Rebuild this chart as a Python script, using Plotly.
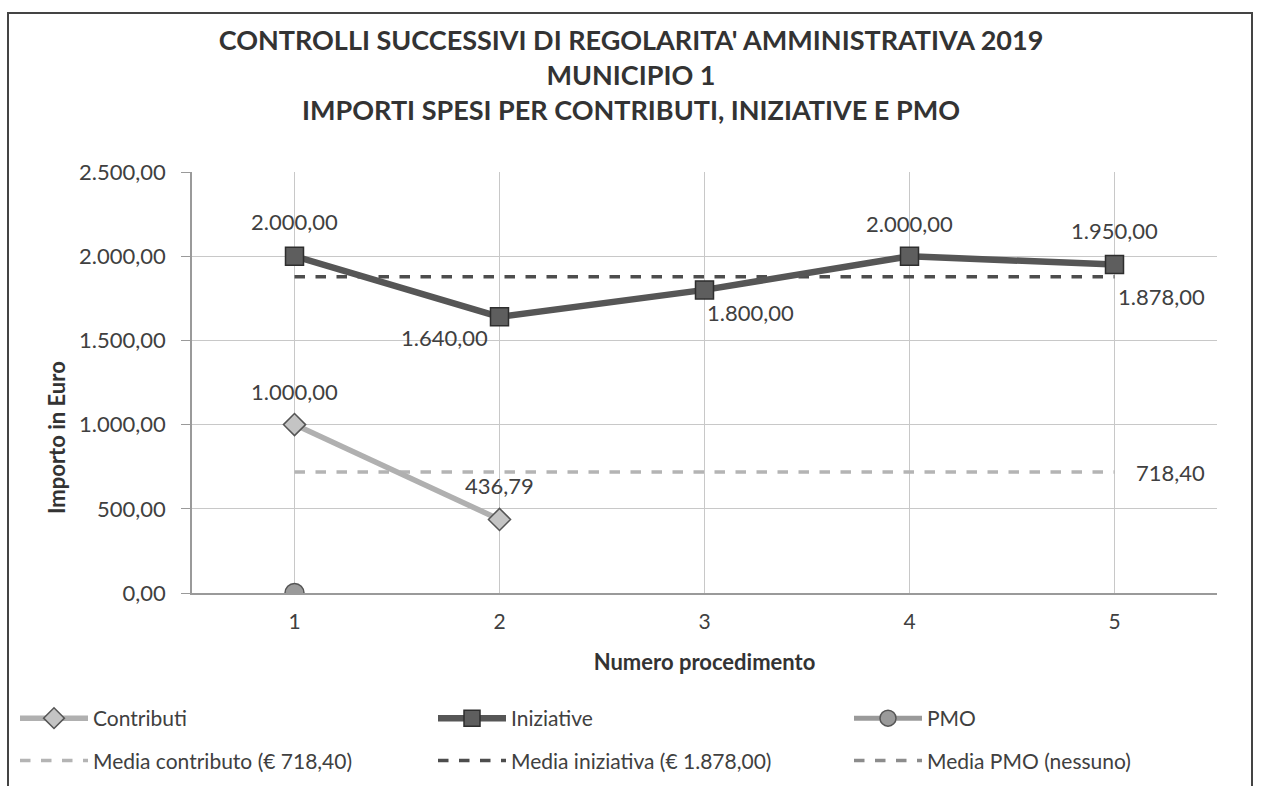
import plotly.graph_objects as go

# Dati: importi per procedimento (euro)
procedimenti = [1, 2, 3, 4, 5]
contributi = [1000.00, 436.79]
iniziative = [2000.00, 1640.00, 1800.00, 2000.00, 1950.00]
pmo = [0.00]
media_contributo = 718.40
media_iniziativa = 1878.00

y_ticks = [0, 500, 1000, 1500, 2000, 2500]

# Offset (px) delle etichette rispetto al punto
off_iniziative = [(0, 35), (-55, -21), (46, -23), (0, 33), (0, 34)]
off_contributi = [(0, 33), (0, 34)]

FONT = "Lato"
TXT = "#404040"

# Geometria dell'area del grafico (px)
W, H = 1262, 786
L, R, T, B = 192, 45, 172, 193
PW, PH = W - L - R, H - T - B


def fmt_it(v):
    s = f"{v:,.2f}"
    return s.replace(",", "X").replace(".", ",").replace("X", ".")


def px_x(px):
    return (px - L) / PW


def px_y(py):
    return (H - B - py) / PH


fig = go.Figure()

# Linee della media (sotto le serie principali)
fig.add_trace(go.Scatter(
    x=procedimenti, y=[media_contributo] * len(procedimenti), mode="lines",
    name=f"Media contributo (€ {fmt_it(media_contributo)})",
    line=dict(color="#b4b4b4", width=3.5, dash="dash"),
    legend="legend", legendgroup="mc", legendrank=2))
fig.add_trace(go.Scatter(
    x=procedimenti, y=[media_iniziativa] * len(procedimenti), mode="lines",
    name=f"Media iniziativa (€ {fmt_it(media_iniziativa)})",
    line=dict(color="#4d4d4d", width=3.5, dash="dash"),
    legend="legend2", legendgroup="mi", legendrank=2))
fig.add_trace(go.Scatter(
    x=procedimenti, y=[None] * len(procedimenti), mode="lines",
    name="Media PMO (nessuno)",
    line=dict(color="#8c8c8c", width=3.5, dash="dash"),
    legend="legend3", legendgroup="mp", legendrank=2))

# Serie principali
fig.add_trace(go.Scatter(
    x=procedimenti[:len(contributi)], y=contributi, mode="lines+markers",
    name="Contributi",
    line=dict(color="#b0b0b0", width=5.5),
    marker=dict(symbol="diamond", size=17, color="#c4c4c4",
                line=dict(color="#555555", width=1.5)),
    legend="legend", legendgroup="c", legendrank=1))
fig.add_trace(go.Scatter(
    x=procedimenti, y=iniziative, mode="lines+markers",
    name="Iniziative",
    line=dict(color="#565656", width=6.5),
    marker=dict(symbol="square", size=18, color="#5e5e5e",
                line=dict(color="#2e2e2e", width=1.5)),
    legend="legend2", legendgroup="i", legendrank=1))
fig.add_trace(go.Scatter(
    x=procedimenti[:len(pmo)], y=pmo, mode="lines+markers",
    name="PMO",
    line=dict(color="#9a9a9a", width=5),
    marker=dict(symbol="circle", size=19, color="#9a9a9a",
                line=dict(color="#555555", width=1.5)),
    legend="legend3", legendgroup="p", legendrank=1))

lab_font = dict(family=FONT, size=22, color=TXT)
annotations = []
for x, v, (dx, dy) in zip(procedimenti, iniziative, off_iniziative):
    annotations.append(dict(x=x, y=v, text=fmt_it(v), showarrow=False,
                            xshift=dx, yshift=dy, font=lab_font))
for x, v, (dx, dy) in zip(procedimenti, contributi, off_contributi):
    annotations.append(dict(x=x, y=v, text=fmt_it(v), showarrow=False,
                            xshift=dx, yshift=dy, font=lab_font))
annotations.append(dict(x=procedimenti[-1], y=media_iniziativa,
                        text=fmt_it(media_iniziativa), showarrow=False,
                        xshift=47, yshift=-20, font=lab_font))
annotations.append(dict(x=procedimenti[-1], y=media_contributo,
                        text=fmt_it(media_contributo), showarrow=False,
                        xshift=56, yshift=0, font=lab_font))
# Titolo asse Y
annotations.append(dict(x=px_x(56), y=px_y(438), xref="paper", yref="paper",
                        xanchor="center", yanchor="middle",
                        text="<b>Importo in Euro</b>", textangle=-90,
                        showarrow=False,
                        font=dict(family=FONT, size=22, color="#333333")))


def legend_at(px_left):
    return dict(
        orientation="v", xref="container", yref="container",
        x=px_left / W, y=1 - 698 / H, xanchor="left", yanchor="top",
        itemwidth=68, tracegroupgap=12,
        font=dict(family=FONT, size=21, color=TXT),
        bgcolor="rgba(0,0,0,0)")


fig.update_layout(
    width=W, height=H,
    margin=dict(l=L, r=R, t=T, b=B, autoexpand=False),
    paper_bgcolor="white", plot_bgcolor="white",
    separators=",.",
    font=dict(family=FONT, size=20, color=TXT),
    title=dict(
        text="<b>CONTROLLI SUCCESSIVI DI REGOLARITA' AMMINISTRATIVA 2019</b><br>"
             "<b>MUNICIPIO 1</b><br>"
             "<b>IMPORTI SPESI PER CONTRIBUTI, INIZIATIVE E PMO</b>",
        x=0.5, xanchor="center", xref="container",
        y=1 - 50 / H, yanchor="top", yref="container",
        font=dict(family=FONT, size=27, color="#333333")),
    xaxis=dict(
        range=[0.5, 5.5], tickvals=procedimenti,
        ticktext=[str(p) for p in procedimenti],
        showgrid=True, gridcolor="#c8c8c8", gridwidth=1,
        showline=True, linecolor="#9a9a9a", linewidth=1.5,
        ticks="", zeroline=False, ticklabelstandoff=9,
        tickfont=dict(family=FONT, size=21, color=TXT),
        title=dict(text="<b>Numero procedimento</b>", standoff=23,
                   font=dict(family=FONT, size=22, color="#333333"))),
    yaxis=dict(
        range=[0, 2500], tickvals=y_ticks, tickformat=",.2f",
        showgrid=True, gridcolor="#c8c8c8", gridwidth=1,
        showline=True, linecolor="#9a9a9a", linewidth=1.5,
        ticks="outside", ticklen=9, tickcolor="#9a9a9a",
        zeroline=False, ticklabelstandoff=11,
        tickfont=dict(family=FONT, size=22, color=TXT)),
    legend=legend_at(15),
    legend2=legend_at(433),
    legend3=legend_at(849),
    annotations=annotations,
    shapes=[dict(type="rect", xref="paper", yref="paper",
                 x0=px_x(8), x1=px_x(1252),
                 y0=px_y(H + 40), y1=px_y(13),
                 line=dict(color="#444444", width=2), layer="below")],
)

fig.write_html("out.html")
